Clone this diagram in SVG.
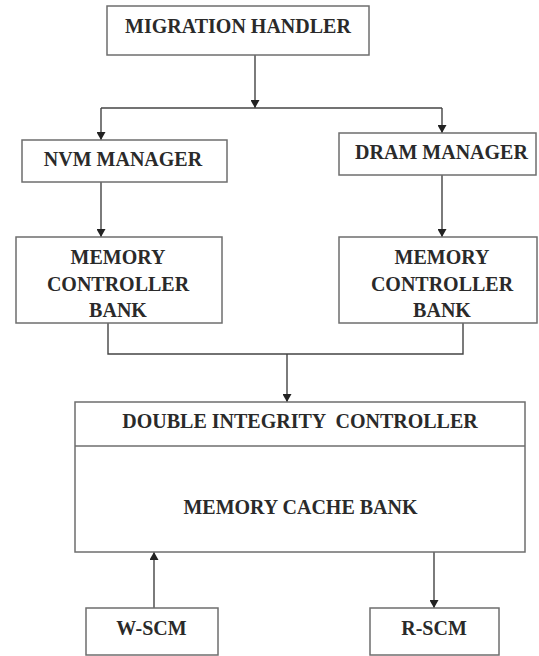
<svg xmlns="http://www.w3.org/2000/svg" width="539" height="656" viewBox="0 0 539 656">
<style>
.box{fill:#fff;stroke:#6e6e6e;stroke-width:1.5}
.lbl{font-family:"Liberation Serif","Times New Roman",serif;font-weight:bold;font-size:20px;fill:#2a2a2a;text-anchor:middle}
.conn{fill:none;stroke:#444;stroke-width:1.4}
</style>
<defs>
<marker id="ah" viewBox="0 0 8 9" refX="8" refY="4.5" markerWidth="8" markerHeight="9" markerUnits="userSpaceOnUse" orient="auto">
<path d="M0,0 L8,4.5 L0,9 Z" fill="#222"/>
</marker>
</defs>
<rect width="539" height="656" fill="#fff"/>
<g id="connectors">
<line class="conn" x1="255" y1="55" x2="255" y2="108" marker-end="url(#ah)"/>
<line class="conn" x1="101" y1="108" x2="442" y2="108"/>
<line class="conn" x1="101" y1="108" x2="101" y2="140" marker-end="url(#ah)"/>
<line class="conn" x1="442" y1="108" x2="442" y2="133" marker-end="url(#ah)"/>
<line class="conn" x1="101" y1="182" x2="101" y2="237" marker-end="url(#ah)"/>
<line class="conn" x1="442" y1="175" x2="442" y2="237" marker-end="url(#ah)"/>
<polyline class="conn" points="108,323 108,354 463,354 463,323"/>
<line class="conn" x1="287" y1="354" x2="287" y2="402" marker-end="url(#ah)"/>
<line class="conn" x1="154" y1="608" x2="154" y2="552" marker-end="url(#ah)"/>
<line class="conn" x1="434" y1="552" x2="434" y2="608" marker-end="url(#ah)"/>
</g>
<g id="migration-handler">
<rect class="box" x="107" y="6" width="262" height="49"/>
<text class="lbl" x="238" y="33">MIGRATION HANDLER</text>
</g>
<g id="nvm-manager">
<rect class="box" x="22" y="140" width="205" height="42"/>
<text class="lbl" x="123" y="166">NVM MANAGER</text>
</g>
<g id="dram-manager">
<rect class="box" x="339" y="133" width="197" height="42"/>
<text class="lbl" x="441.5" y="159">DRAM MANAGER</text>
</g>
<g id="mc-bank-left">
<rect class="box" x="16" y="237" width="206" height="86"/>
<text class="lbl" x="118" y="264">MEMORY</text>
<text class="lbl" x="118" y="291">CONTROLLER</text>
<text class="lbl" x="118" y="317">BANK</text>
</g>
<g id="mc-bank-right">
<rect class="box" x="339" y="237" width="198" height="86"/>
<text class="lbl" x="442" y="264">MEMORY</text>
<text class="lbl" x="442" y="291">CONTROLLER</text>
<text class="lbl" x="442" y="317">BANK</text>
</g>
<g id="double-integrity-controller">
<rect class="box" x="75" y="402" width="450" height="150"/>
<line class="box" x1="75" y1="446" x2="525" y2="446"/>
<text class="lbl" x="300" y="428" xml:space="preserve">DOUBLE INTEGRITY  CONTROLLER</text>
<text class="lbl" x="300.5" y="514">MEMORY CACHE BANK</text>
</g>
<g id="w-scm">
<rect class="box" x="86" y="608" width="132" height="47"/>
<text class="lbl" x="151.5" y="635">W-SCM</text>
</g>
<g id="r-scm">
<rect class="box" x="370" y="608" width="129" height="47"/>
<text class="lbl" x="434" y="635">R-SCM</text>
</g>
</svg>
